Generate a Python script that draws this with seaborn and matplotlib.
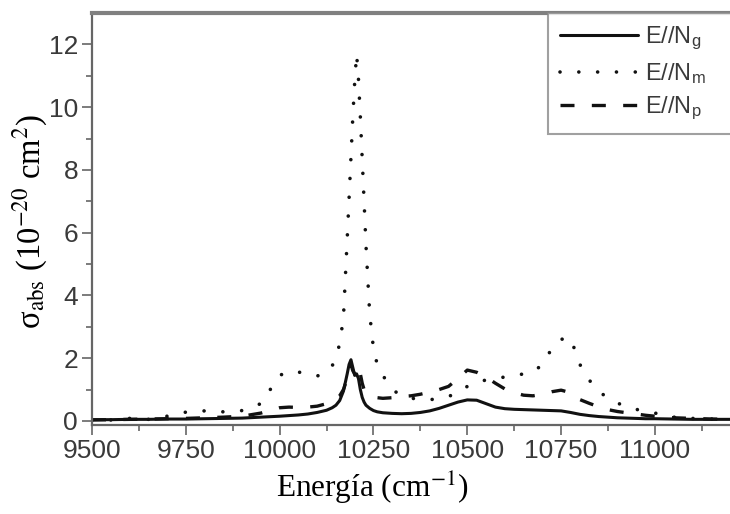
import numpy as np
import pandas as pd
import matplotlib
matplotlib.use("Agg")
import matplotlib.pyplot as plt
import seaborn as sns

# ---------------------------
# Data
# ---------------------------
energy = [9500, 9550, 9600, 9650, 9700, 9750, 9800, 9850, 9900, 9950,
          10000, 10025, 10050, 10075, 10100, 10125, 10140, 10150, 10160, 10170,
          10180, 10185, 10190, 10195, 10200, 10205, 10210, 10215, 10220, 10225,
          10230, 10240, 10250, 10260, 10275, 10300, 10325, 10350, 10375, 10400,
          10425, 10450, 10475, 10500, 10525, 10550, 10575, 10600, 10625, 10650,
          10675, 10700, 10725, 10750, 10775, 10800, 10825, 10850, 10875, 10900,
          10925, 10950, 10975, 11000, 11050, 11100, 11150, 11200]

sigma_g = [0.04, 0.04, 0.05, 0.05, 0.06, 0.06, 0.07, 0.08, 0.09, 0.12,
           0.15, 0.17, 0.19, 0.22, 0.27, 0.34, 0.42, 0.50, 0.65, 0.95,
           1.50, 1.80, 1.95, 1.70, 1.45, 1.50, 1.35, 1.00, 0.75, 0.60,
           0.50, 0.40, 0.33, 0.29, 0.26, 0.24, 0.23, 0.24, 0.27, 0.32,
           0.40, 0.50, 0.60, 0.67, 0.66, 0.55, 0.44, 0.39, 0.37, 0.36,
           0.35, 0.34, 0.33, 0.32, 0.27, 0.21, 0.17, 0.14, 0.12, 0.10,
           0.09, 0.08, 0.07, 0.07, 0.06, 0.05, 0.05, 0.05]

sigma_m = [0.02, 0.03, 0.08, 0.05, 0.15, 0.28, 0.32, 0.29, 0.33, 0.55,
           1.45, 1.58, 1.56, 1.48, 1.43, 1.55, 1.75, 2.05, 2.45, 3.30,
           5.80, 7.10, 8.40, 9.70, 10.8, 11.7, 10.9, 9.70, 8.35, 7.00,
           5.60, 3.40, 2.30, 1.80, 1.45, 1.00, 0.80, 0.72, 0.70, 0.68,
           0.70, 0.78, 0.90, 1.10, 1.25, 1.30, 1.35, 1.40, 1.44, 1.50,
           1.55, 1.80, 2.30, 2.60, 2.65, 1.80, 1.30, 0.95, 0.72, 0.57,
           0.45, 0.37, 0.30, 0.25, 0.12, 0.08, 0.06, 0.05]

sigma_p = [0.03, 0.04, 0.05, 0.06, 0.07, 0.08, 0.10, 0.12, 0.15, 0.25,
           0.42, 0.44, 0.43, 0.44, 0.47, 0.55, 0.65, 0.72, 0.80, 1.00,
           1.35, 1.60, 1.80, 1.60, 1.50, 1.70, 1.75, 1.50, 1.20, 1.00,
           0.90, 0.82, 0.78, 0.74, 0.72, 0.74, 0.78, 0.80, 0.85, 0.92,
           1.00, 1.10, 1.35, 1.62, 1.55, 1.40, 1.20, 1.02, 0.90, 0.82,
           0.80, 0.85, 0.93, 0.98, 0.90, 0.68, 0.56, 0.45, 0.36, 0.30,
           0.26, 0.22, 0.18, 0.15, 0.10, 0.08, 0.06, 0.05]

labels = [r"E//N$_{\rm g}$", r"E//N$_{\rm m}$", r"E//N$_{\rm p}$"]
x_ticks = [9500, 9750, 10000, 10250, 10500, 10750, 11000]
y_ticks = [0, 2, 4, 6, 8, 10, 12]

df = pd.DataFrame({"energy": energy, "g": sigma_g, "m": sigma_m, "p": sigma_p})

# ---------------------------
# Style
# ---------------------------
sns.set_style("ticks")
plt.rcParams["font.family"] = ["Liberation Sans", "DejaVu Sans"]
plt.rcParams["mathtext.fontset"] = "custom"
plt.rcParams["mathtext.rm"] = "Liberation Sans"
plt.rcParams["mathtext.it"] = "Liberation Sans:italic"

grey = "#666666"
text_grey = "#3a3a3a"

fig = plt.figure(figsize=(7.30, 5.14), dpi=100)
ax = fig.add_axes([92 / 730, 1 - 425 / 514, 1 - 92 / 730, (425 - 13) / 514])

# ---------------------------
# Lines
# ---------------------------
sns.lineplot(data=df, x="energy", y="g", ax=ax, color="#111111", lw=2.2,
             linestyle="-", label=labels[0])
sns.lineplot(data=df, x="energy", y="m", ax=ax, color="#111111", lw=2.6,
             linestyle=(0, (0.01, 5.2)), dash_capstyle="round", label=labels[1])
sns.lineplot(data=df, x="energy", y="p", ax=ax, color="#111111", lw=2.4,
             linestyle=(0, (4.2, 5.2)), label=labels[2])

ax.set_xlim(9500, 11200)
ax.set_ylim(-0.13, 13.0)
ax.set_xticks(x_ticks)
ax.set_yticks(y_ticks)
ax.set_xticks(np.arange(9625, 11200, 250), minor=True)
ax.set_yticks(np.arange(1, 13, 2), minor=True)

ax.tick_params(axis="both", which="major", direction="out", length=7, width=1.2,
               color=grey, labelsize=19, labelcolor=text_grey, pad=3)
ax.tick_params(axis="both", which="minor", direction="out", length=4, width=1.2,
               color=grey)

for side in ["left", "bottom"]:
    ax.spines[side].set_color(grey)
    ax.spines[side].set_linewidth(1.6)
ax.spines["top"].set_color("#808080")
ax.spines["top"].set_linewidth(3)
ax.spines["right"].set_visible(False)

ax.set_ylabel("σ$_{\\rm abs}$ (10$^{-20}$ cm$^2$)", fontsize=23.5,
              family="Liberation Serif", math_fontfamily="stix", color="black")
ax.yaxis.set_label_coords(-0.066, 0.495)
ax.set_xlabel(r"Energía (cm$^{-1}$)", fontsize=22.5, family="Liberation Serif",
              math_fontfamily="stix", color="black")
ax.xaxis.set_label_coords(0.44, -0.11)

x0 = (548 - 92) / 638
leg = ax.legend(loc="upper left", bbox_to_anchor=(x0, 0, 1.2 - x0, 1.0),
                mode="expand", borderaxespad=0, frameon=True, fancybox=False,
                fontsize=17, handlelength=3.3, handletextpad=0.3,
                labelspacing=0.38, borderpad=0.5)
leg.get_frame().set_edgecolor("#888888")
leg.get_frame().set_linewidth(1.5)
for t in leg.get_texts():
    t.set_color(text_grey)

fig.savefig("out.png", dpi=100)
